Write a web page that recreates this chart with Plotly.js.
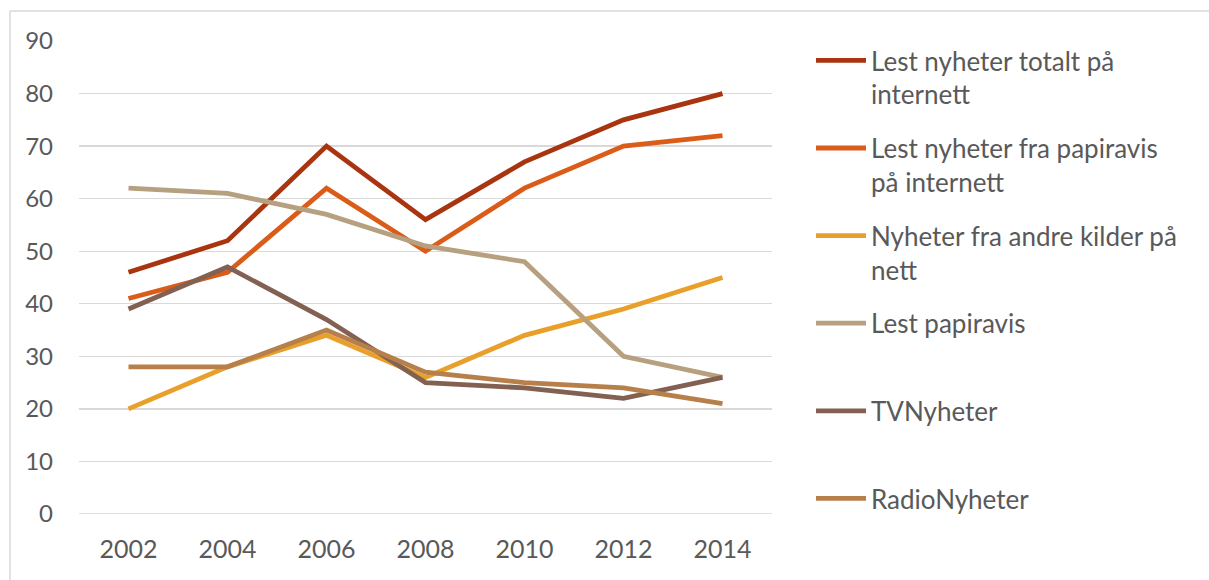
<!DOCTYPE html>
<html>
<head>
<meta charset="utf-8">
<script src="https://cdn.plot.ly/plotly-3.0.1.min.js"></script>
<style>
  html, body { margin: 0; padding: 0; background: #fff; }
  #chart { width: 1209px; height: 580px; }
</style>
</head>
<body>
<div id="chart"></div>
<script>
const years = ["2002", "2004", "2006", "2008", "2010", "2012", "2014"];

const seriesNames = [
  "Lest nyheter totalt på<br>internett",
  "Lest nyheter fra papiravis<br>på internett",
  "Nyheter fra andre kilder på<br>nett",
  "Lest papiravis<br> ",
  "TVNyheter<br> ",
  "RadioNyheter<br> "
];

const totaltInternett    = [46, 52, 70, 56, 67, 75, 80];
const papiravisInternett = [41, 46, 62, 50, 62, 70, 72];
const andreKilder        = [20, 28, 34, 26, 34, 39, 45];
const lestPapiravis      = [62, 61, 57, 51, 48, 30, 26];
const tvNyheter          = [39, 47, 37, 25, 24, 22, 26];
const radioNyheter       = [28, 28, 35, 27, 25, 24, 21];

const seriesValues = [totaltInternett, papiravisInternett, andreKilder, lestPapiravis, tvNyheter, radioNyheter];
const seriesColors = ["#A93410", "#DA5C18", "#E8A02A", "#B7A080", "#836152", "#B7804A"];

const yTicks = [0, 10, 20, 30, 40, 50, 60, 70, 80, 90];

const traces = seriesValues.map((vals, i) => ({
  type: "scatter",
  mode: "lines",
  x: years,
  y: vals,
  name: seriesNames[i],
  legendgroup: "g" + i,
  line: { color: seriesColors[i], width: 4.8, shape: "linear" },
  hoverinfo: "x+y+name"
}));

const W = 1209, H = 580;
const mL = 79, mR = W - 772, mT = 41, mB = H - 514;
const pw = W - mL - mR, ph = H - mT - mB;
const px = v => (v - mL) / pw;
const py = v => (H - mB - v) / ph;

const layout = {
  width: W,
  height: H,
  margin: { l: mL, r: mR, t: mT, b: mB, pad: 0 },
  paper_bgcolor: "#ffffff",
  plot_bgcolor: "#ffffff",
  font: { family: "Lato, 'Open Sans', sans-serif", color: "#595959", size: 25 },
  showlegend: true,
  legend: {
    x: px(811), xanchor: "left",
    y: py(37), yanchor: "top",
    font: { size: 26, color: "#595959", family: "Lato, sans-serif" },
    valign: "top",
    tracegroupgap: 17,
    itemwidth: 50,
    maxheight: 580,
    bgcolor: "rgba(0,0,0,0)"
  },
  xaxis: {
    type: "category",
    range: [-0.5, 6.5],
    showgrid: false,
    zeroline: false,
    showline: false,
    ticks: "",
    ticklabelstandoff: 18,
    tickfont: { size: 25, color: "#595959" },
    fixedrange: true
  },
  yaxis: {
    range: [0, 90],
    tickvals: yTicks,
    ticktext: yTicks.map(String),
    showgrid: true,
    gridcolor: "#D9D9D9",
    gridwidth: 1.3,
    zeroline: false,
    showline: false,
    ticks: "",
    ticklabelstandoff: 25,
    tickfont: { size: 24, color: "#595959" },
    fixedrange: true
  },
  shapes: [
    { type: "line", xref: "paper", yref: "paper", x0: px(10), x1: px(1215), y0: py(11), y1: py(11), line: { color: "#D9D9D9", width: 1.5 } },
    { type: "line", xref: "paper", yref: "paper", x0: px(10), x1: px(10), y0: py(11), y1: py(590), line: { color: "#D9D9D9", width: 1.5 } },
    { type: "line", xref: "paper", yref: "y", x0: 0, x1: 1, y0: 0, y1: 0, line: { color: "#D9D9D9", width: 1.3 }, layer: "below" }
  ]
};

Plotly.newPlot("chart", traces, layout, { displayModeBar: false, staticPlot: true });
</script>
</body>
</html>
